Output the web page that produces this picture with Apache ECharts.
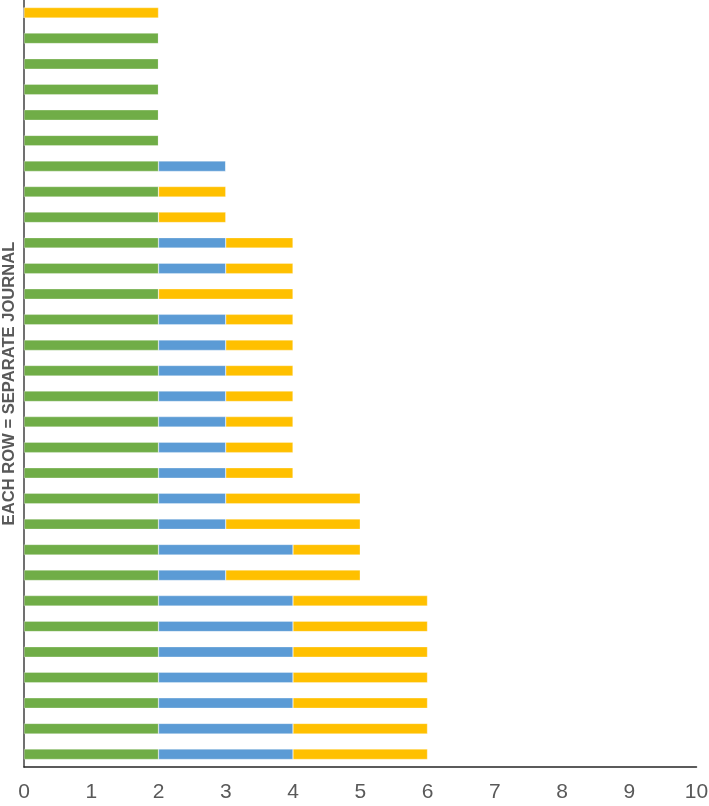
<!DOCTYPE html>
<html>
<head>
<meta charset="utf-8">
<script src="https://cdn.jsdelivr.net/npm/echarts@6/dist/echarts.min.js"></script>
<style>
html,body{margin:0;padding:0;background:#fff;}
#chart{width:709px;height:806px;}
</style>
</head>
<body>
<div id="chart"></div>
<script>
// Rows from top to bottom (each row = a separate journal)
const journals = ['J1','J2','J3','J4','J5','J6','J7','J8','J9','J10','J11','J12','J13','J14','J15','J16','J17','J18','J19','J20','J21','J22','J23','J24','J25','J26','J27','J28','J29','J30'];
const greenValues  = [0,2,2,2,2,2,2,2,2,2,2,2,2,2,2,2,2,2,2,2,2,2,2,2,2,2,2,2,2,2];
const blueValues   = [0,0,0,0,0,0,1,0,0,1,1,0,1,1,1,1,1,1,1,1,1,2,1,2,2,2,2,2,2,2];
const yellowValues = [2,0,0,0,0,0,0,1,1,1,1,2,1,1,1,1,1,1,1,2,2,1,2,2,2,2,2,2,2,2];
const xTicks = [0,1,2,3,4,5,6,7,8,9,10];

const chart = echarts.init(document.getElementById('chart'), null, {renderer:'canvas'});
const barStyle = (c) => ({color:c, borderColor:'rgba(255,255,255,0.6)', borderWidth:0.5});
chart.setOption({
  animation:false,
  backgroundColor:'#fff',
  grid:{left:24, right:12.5, top:0, bottom:39, containLabel:false, outerBoundsMode:'none'},
  xAxis:{
    type:'value', min:xTicks[0], max:xTicks[xTicks.length-1], interval:1,
    splitLine:{show:false},
    axisLine:{show:true, lineStyle:{color:'#262626', width:1.5}},
    axisTick:{show:false},
    axisLabel:{color:'#595959', fontSize:21, fontFamily:'Liberation Sans, Arial, sans-serif', margin:15}
  },
  yAxis:{
    type:'category', data:journals, inverse:true,
    name:'EACH ROW = SEPARATE JOURNAL', nameLocation:'middle', nameGap:6, nameRotate:90,
    nameTextStyle:{color:'#595959', fontSize:16.6, fontWeight:'bold', fontFamily:'Liberation Sans, Arial, sans-serif'},
    axisLine:{show:true, lineStyle:{color:'#404040', width:1.5}},
    axisTick:{show:false},
    axisLabel:{show:false},
    splitLine:{show:false}
  },
  series:[
    {type:'bar', stack:'a', data:greenValues, barWidth:'41%', itemStyle:barStyle('#70AD47')},
    {type:'bar', stack:'a', data:blueValues, barWidth:'41%', itemStyle:barStyle('#5B9BD5')},
    {type:'bar', stack:'a', data:yellowValues, barWidth:'41%', itemStyle:barStyle('#FFC000')}
  ]
});
</script>
</body>
</html>
